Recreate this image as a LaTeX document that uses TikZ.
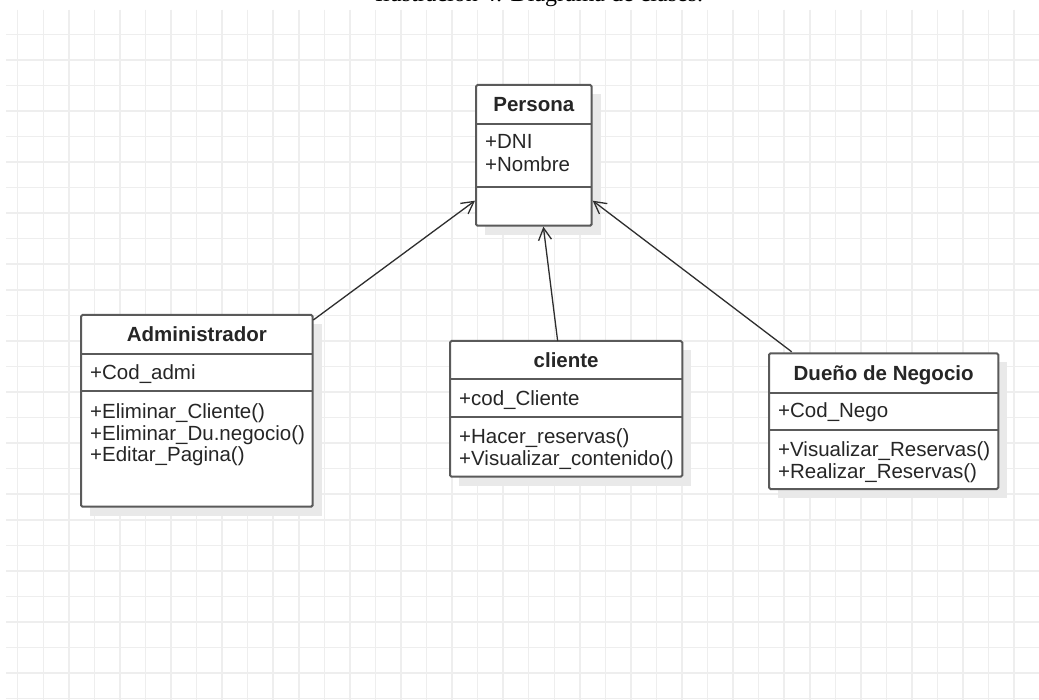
\documentclass[tikz,border=0pt]{standalone}
\usepackage{fontspec}
\setmainfont{Liberation Sans}
\newfontfamily\serifcap{Liberation Serif}
\usetikzlibrary{arrows.meta,calc}
\definecolor{gridc}{HTML}{EEEEEE}
\definecolor{shadowc}{HTML}{E9E9E9}
\definecolor{boxc}{HTML}{5A5A5A}
\definecolor{txtc}{HTML}{262626}
\definecolor{arrc}{HTML}{2E2E2E}
\tikzset{
  classbox/.style={draw=boxc, line width=2pt, fill=white, rounded corners=1.5pt,
    outer sep=0pt, inner sep=0pt, anchor=north west},
  divider/.style={draw=boxc, line width=2pt},
  boxshadow/.style={fill=shadowc},
  ctitle/.style={anchor=base, inner sep=0pt, text=txtc, font=\bfseries\fontsize{20.5}{24}\selectfont},
  member/.style={anchor=base west, inner sep=0pt, text=txtc, font=\fontsize{20.5}{24}\selectfont},
  inherit/.style={draw=arrc, line width=1.3pt,
    -{Straight Barb[length=12pt,width=13pt,line width=1.3pt]}},
  gridline/.style={draw=gridc, line width=1.5pt}
}
\begin{document}
\begin{tikzpicture}[x=1pt,y=-1pt]
\useasboundingbox (0,0) rectangle (1039,700);
\fill[white] (0,0) rectangle (1039,700);
% grid
\begin{scope}
\clip (6,10) rectangle (1039,700);
\foreach \k in {0,...,39} \draw[gridline] ({17.7+25.55*\k},10) -- ({17.7+25.55*\k},700);
\foreach \k in {0,...,26} \draw[gridline] (6,{34.3+25.55*\k}) -- (1039,{34.3+25.55*\k});
\end{scope}
% caption (cut off at the top)
\begin{scope}
\clip (0,0) rectangle (1039,700);
\node[anchor=base west, inner sep=0pt, text=black, font=\serifcap\fontsize{24}{28}\selectfont] (caption) at (375,1.5) {Ilustración 4: Diagrama de clases.};
\end{scope}
% Persona
\fill[boxshadow] (485,94) rectangle (600.7,234.7);
\node[classbox, minimum width=115.7pt, minimum height=140.7pt] (persona) at (476,85) {};
\draw[divider] (476,124.3) -- (591.7,124.3);
\draw[divider] (476,186.7) -- (591.7,186.7);
\node[ctitle] (personaT) at (533.85,112) {Persona};
\node[member] (personaA1) at (485,149) {+DNI};
\node[member] (personaA2) at (485,171.5) {+Nombre};
% Administrador
\fill[boxshadow] (90,324) rectangle (321.7,515.7);
\node[classbox, minimum width=231.7pt, minimum height=191.7pt] (admin) at (81,315) {};
\draw[divider] (81,354.3) -- (312.7,354.3);
\draw[divider] (81,391) -- (312.7,391);
\node[ctitle] (adminT) at (196.85,342) {Administrador};
\node[member] (adminA1) at (90,380) {+Cod\_admi};
\node[member] (adminM1) at (90,418.5) {+Eliminar\_Cliente()};
\node[member] (adminM2) at (90,440.2) {+Eliminar\_Du.negocio()};
\node[member] (adminM3) at (90,461.9) {+Editar\_Pagina()};
% cliente
\fill[boxshadow] (459,350) rectangle (691.3,485.7);
\node[classbox, minimum width=232.3pt, minimum height=135.7pt] (cliente) at (450,341) {};
\draw[divider] (450,379.3) -- (682.3,379.3);
\draw[divider] (450,416.7) -- (682.3,416.7);
\node[ctitle] (clienteT) at (566.15,368) {cliente};
\node[member] (clienteA1) at (459,405.5) {+cod\_Cliente};
\node[member] (clienteM1) at (459,443.5) {+Hacer\_reservas()};
\node[member] (clienteM2) at (459,465.2) {+Visualizar\_contenido()};
% Dueño de Negocio
\fill[boxshadow] (778,362.3) rectangle (1007.3,498);
\node[classbox, minimum width=229.3pt, minimum height=135.7pt] (dueno) at (769,353.3) {};
\draw[divider] (769,393.3) -- (998.3,393.3);
\draw[divider] (769,430) -- (998.3,430);
\node[ctitle] (duenoT) at (883.65,381) {Dueño de Negocio};
\node[member] (duenoA1) at (778,418) {+Cod\_Nego};
\node[member] (duenoM1) at (778,456.5) {+Visualizar\_Reservas()};
\node[member] (duenoM2) at (778,478.2) {+Realizar\_Reservas()};
% generalizations
\draw[inherit] ($(admin.north east)+(0.6,5)$) -- ($(persona.south west)+(-1,-25)$);
\draw[inherit] ($(cliente.north)+(-8.5,0)$) -- ($(persona.south)+(9.5,1)$);
\draw[inherit] ($(dueno.north west)+(22.7,-1.5)$) -- ($(persona.south east)+(1,-25)$);
\end{tikzpicture}
\end{document}
